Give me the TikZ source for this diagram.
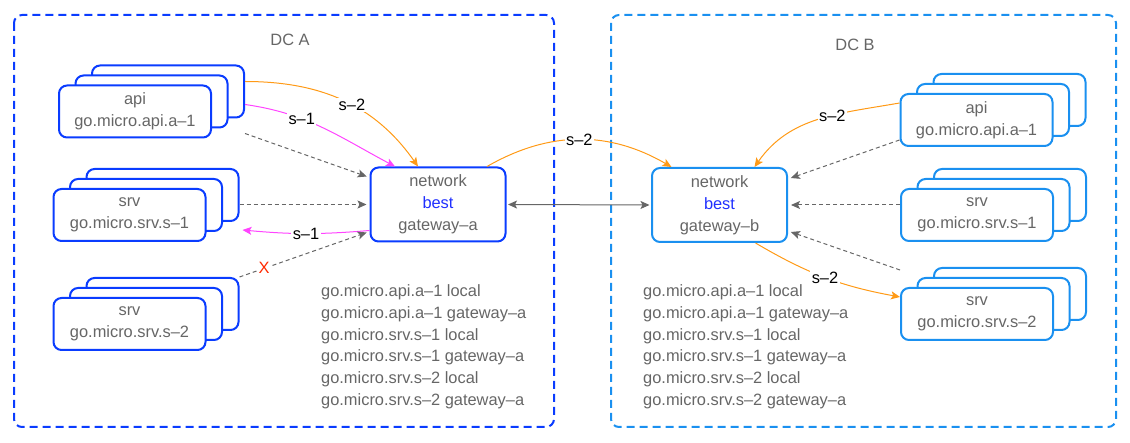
\documentclass[tikz,border=0pt]{standalone}
\usepackage{fontspec}
\setmainfont{Liberation Sans}
\usetikzlibrary{arrows.meta,calc}

\definecolor{dcablue}{HTML}{0A3CFF}
\definecolor{dcbblue}{HTML}{1A90F0}
\definecolor{bestblue}{HTML}{2030FF}
\definecolor{txtgray}{HTML}{666666}
\definecolor{s2orange}{HTML}{FF9A16}
\definecolor{s1pink}{HTML}{FF44FF}
\definecolor{xred}{HTML}{FF2A00}

\tikzset{
  svcbox/.style={draw=#1, line width=2pt, rounded corners=8pt, fill=white,
    minimum width=152pt, minimum height=52pt, inner sep=0pt, align=center,
    text=txtgray, font=\fontsize{16.4}{22}\selectfont},
  netbox/.style={draw=#1, line width=2pt, rounded corners=8pt, fill=white,
    minimum width=135pt, minimum height=74pt, inner sep=0pt, align=center,
    text=txtgray, font=\fontsize{16.4}{22}\selectfont},
  dcframe/.style={draw=#1, line width=2pt, dash pattern=on 8pt off 5pt, rounded corners=8pt},
  dctitle/.style={text=txtgray, font=\fontsize{16.4}{16}\selectfont},
  route/.style={anchor=west, inner sep=0pt, text height=11.5pt, text depth=3.5pt,
    text=txtgray, font=\fontsize{16.4}{16}\selectfont},
  lbl/.style={fill=white, inner sep=1.5pt, text=black, font=\fontsize{16.4}{16}\selectfont},
  xmark/.style={fill=white, inner sep=1pt, text=xred, font=\fontsize{16.4}{16}\selectfont},
  link/.style={line width=1pt, ->},
  probe/.style={line width=1pt, ->, draw=txtgray, dash pattern=on 4pt off 3pt, shorten >=3pt},
}

% three stacked service boxes: name, centre of front box, colour, text
\newcommand{\svcstack}[4]{%
  \node[svcbox=#3] (#1-3) at ($#2+(33,-20)$) {};
  \node[svcbox=#3] (#1-2) at ($#2+(16.5,-10)$) {};
  \node[svcbox=#3] (#1-1) at #2 {#4};
}

\begin{document}
\begin{tikzpicture}[x=1pt,y=-1pt,>={Stealth[length=9pt,width=8pt,inset=2pt]}]
  \useasboundingbox (0,0) rectangle (1130,443);

  % data centres
  \draw[dcframe=dcablue] (14,15) rectangle (554,427);
  \draw[dcframe=dcbblue] (611,15) rectangle (1116,427);
  \node[dctitle] (dcA) at (290,40) {DC A};
  \node[dctitle] (dcB) at (855,45) {DC B};

  % services
  \svcstack{apiA}{(135,111.5)}{dcablue}{api\\go.micro.api.a–1}
  \svcstack{srvA1}{(129.5,215)}{dcablue}{srv\\go.micro.srv.s–1}
  \svcstack{srvA2}{(129.5,324)}{dcablue}{srv\\go.micro.srv.s–2}
  \svcstack{apiB}{(976.5,120)}{dcbblue}{api\\go.micro.api.a–1}
  \svcstack{srvB1}{(977,215)}{dcbblue}{srv\\go.micro.srv.s–1}
  \svcstack{srvB2}{(977,314)}{dcbblue}{srv\\go.micro.srv.s–2}

  % networks
  \node[netbox=dcablue] (netA) at (438,204.5) {network\\\textcolor{bestblue}{best}\\gateway–a};
  \node[netbox=dcbblue] (netB) at (719.5,205) {network\\\textcolor{bestblue}{best}\\gateway–b};

  % routing tables
  \foreach \tx/\nm in {321/tabA, 643/tabB}
    \foreach \r [count=\i from 0] in {go.micro.api.a–1 local, go.micro.api.a–1 gateway–a,
        go.micro.srv.s–1 local, go.micro.srv.s–1 gateway–a,
        go.micro.srv.s–2 local, go.micro.srv.s–2 gateway–a}
      \node[route] (\nm-\i) at (\tx,{292.3+21.9*\i}) {\r};

  % DC A
  \draw[link, s2orange] ([yshift=10pt]apiA-3.east) to[out=0,in=125]
    node[lbl,pos=0.55] (lblA2) {s–2} ([xshift=-20pt]netA.north);
  \draw[link, s1pink] ([yshift=-13pt]apiA-3.east) to[out=-8,in=152]
    node[lbl,pos=0.35] (lblA1) {s–1} ([xshift=-43pt]netA.north);
  \draw[probe] ([yshift=-42pt]apiA-3.east) -- ([yshift=27pt]netA.west);
  \draw[probe] (srvA1-3.east |- netA.west) -- (netA.west);
  \draw[link, s1pink] ([yshift=-26pt]netA.west) to[bend left=5]
    node[lbl] (lblA3) {s–1} ([shift={(3pt,-8pt)}]srvA1-3.south east);
  \draw[probe] (srvA2-3.north east) -- node[xmark,pos=0.19] (fail) {X} ([yshift=-27pt]netA.west);

  % between DCs
  \draw[link, s2orange] ([xshift=49pt]netA.north) to[bend left=30]
    node[lbl] (lblAB) {s–2} ([xshift=-48pt]netB.north);
  \draw[line width=1pt, txtgray, <->, shorten <=1.5pt, shorten >=1.5pt] (netA.east) -- (netB.west);

  % DC B
  \draw[link, s2orange] ([yshift=17pt]apiB-1.west) to[out=190,in=55]
    node[lbl,pos=0.4] (lblB1) {s–2} ([xshift=35pt]netB.north);
  \draw[probe] ([yshift=-20pt]apiB-1.west) -- ([yshift=26pt]netB.east);
  \draw[probe] (srvB1-1.west |- netB.east) -- (netB.east);
  \draw[probe] ([yshift=17pt]srvB2-1.north west) -- ([yshift=-26pt]netB.east);
  \draw[link, s2orange] ([xshift=36pt]netB.south) to[bend right=10]
    node[lbl] (lblB2) {s–2} ([yshift=17pt]srvB2-1.west);
\end{tikzpicture}
\end{document}
